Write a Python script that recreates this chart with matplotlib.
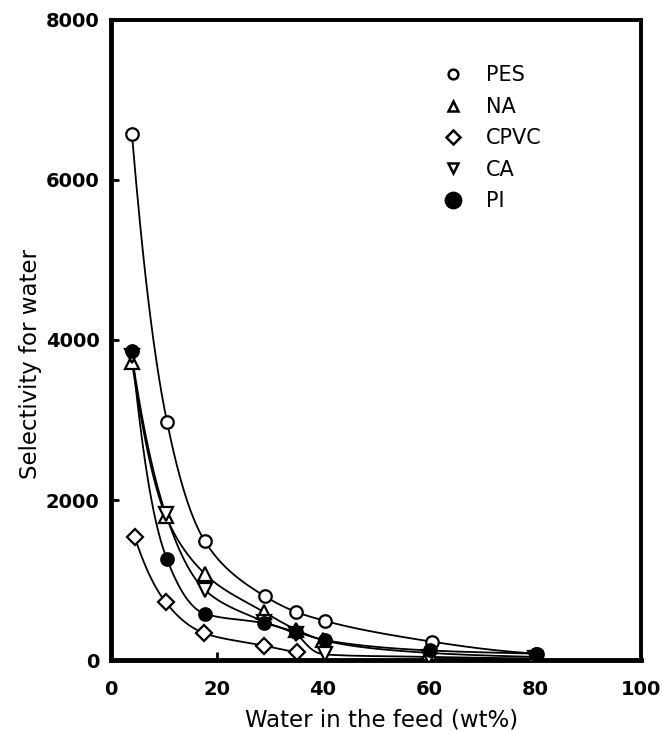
import numpy as np
import matplotlib.pyplot as plt

# values
pes_x = [4, 10.6, 17.7, 29, 35, 40.4, 60.6, 80.4]
pes_y = [6570, 2980, 1490, 800, 600, 490, 230, 80]
na_x = [4, 10.4, 17.7, 28.9, 35, 40, 60, 80]
na_y = [3720, 1800, 1080, 600, 380, 250, 90, 40]
cpvc_x = [4.5, 10.4, 17.5, 28.9, 35.1]
cpvc_y = [1540, 720, 340, 180, 100]
ca_x = [4, 10.4, 17.7, 28.9, 35, 40.4, 60, 80]
ca_y = [3800, 1820, 880, 480, 320, 70, 40, 20]
pi_x = [4, 10.6, 17.7, 28.9, 35, 40.4, 60.2, 80.2]
pi_y = [3860, 1260, 580, 460, 350, 250, 120, 80]

series = [
    ("PES", pes_x, pes_y, "o", "white"),
    ("NA", na_x, na_y, "^", "white"),
    ("CPVC", cpvc_x, cpvc_y, "D", "white"),
    ("CA", ca_x, ca_y, "v", "white"),
    ("PI", pi_x, pi_y, "o", "black"),
]


def pchip(x, y, xs):
    # monotone cubic curve for the hand-drawn smooth lines
    x = np.asarray(x, float)
    y = np.asarray(y, float)
    h = np.diff(x)
    d = np.diff(y) / h
    m = np.zeros_like(y)
    for k in range(1, len(x) - 1):
        if d[k - 1] * d[k] > 0:
            w1 = 2 * h[k] + h[k - 1]
            w2 = h[k] + 2 * h[k - 1]
            m[k] = (w1 + w2) / (w1 / d[k - 1] + w2 / d[k])
    m[0] = d[0]
    m[-1] = d[-1]
    out = np.empty_like(xs)
    for i, xv in enumerate(xs):
        k = min(np.searchsorted(x, xv) - 1, len(x) - 2)
        k = max(k, 0)
        t = (xv - x[k]) / h[k]
        h00 = 2 * t**3 - 3 * t**2 + 1
        h10 = t**3 - 2 * t**2 + t
        h01 = -2 * t**3 + 3 * t**2
        h11 = t**3 - t**2
        out[i] = h00 * y[k] + h10 * h[k] * m[k] + h01 * y[k + 1] + h11 * h[k] * m[k + 1]
    return out


fig = plt.figure(figsize=(6.63, 7.31), dpi=100)
ax = fig.add_axes([0.167, 0.097, 0.800, 0.876])

for name, xs, ys, mk, fc in series:
    xx = np.linspace(xs[0], xs[-1], 300)
    # smooth in log space so the curves bend like the drawn hyperbolas
    ax.plot(xx, np.exp(pchip(xs, np.log(ys), xx)), color="black", lw=1.3, zorder=2)
    ms = 10 if mk in ("^", "v") else 9
    if mk == "D":
        ms = 8
    ax.plot(xs, ys, ls="none", marker=mk, ms=ms, mfc=fc, mec="black", mew=1.6, zorder=3)
    ax.plot([], [], ls="none", marker=mk, ms=7 if fc == "white" else 11,
            mfc=fc, mec="black", mew=1.8, label=name)

ax.set_xlim(0, 100)
ax.set_ylim(0, 8000)
ax.set_xticks([0, 20, 40, 60, 80, 100])
ax.set_yticks([0, 2000, 4000, 6000, 8000])
ax.tick_params(direction="in", length=6, width=2, labelsize=14, pad=8)
ax.tick_params(axis="x", pad=14)
for lab in ax.get_xticklabels() + ax.get_yticklabels():
    lab.set_fontweight("bold")
for side in ["left", "bottom"]:
    ax.spines[side].set_linewidth(3.5)
for side in ["top", "right"]:
    ax.spines[side].set_linewidth(2.8)

ax.set_xlabel("Water in the feed (wt%)", fontsize=16.5)
ax.set_ylabel("Selectivity for water", fontsize=16.5)
ax.xaxis.set_label_coords(0.51, -0.075)
ax.yaxis.set_label_coords(-0.13, 0.463)

ax.legend(loc="upper left", bbox_to_anchor=(0.59, 0.958), frameon=False,
          fontsize=15, labelspacing=0.55, handletextpad=1.1, handlelength=1.0)

fig.savefig("out.png", dpi=100)
